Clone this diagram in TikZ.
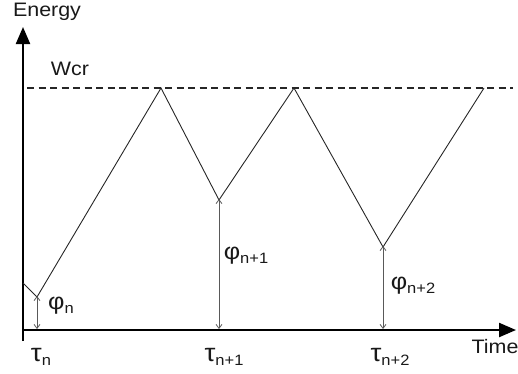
\documentclass[tikz,border=0pt]{standalone}
\usepackage{fontspec}
\setmainfont[FakeStretch=1.1]{Liberation Sans}
\usetikzlibrary{arrows.meta}
\newcommand{\lsub}[1]{\raisebox{-0.4ex}{\fontsize{15}{15}\selectfont #1}}
\newcommand{\gphi}{{\fontsize{23}{23}\selectfont φ}}
\newcommand{\gtau}{{\fontsize{25}{25}\selectfont τ}}
\begin{document}
\begin{tikzpicture}[x=1pt,y=-1pt,
  axis/.style={line width=2.3pt,-{Triangle[length=17pt,width=14pt]}},
  curve/.style={line width=0.9pt,draw=black!85,line join=miter},
  gap/.style={line width=0.8pt,draw=black!65,{Straight Barb[length=4pt,width=6pt]}-{Straight Barb[length=4pt,width=6pt]}},
  lbl/.style={inner sep=0pt,font=\fontsize{19.5}{19.5}\selectfont,text=black!90}]
\useasboundingbox (0,0) rectangle (518,373);
% axes
\coordinate (ybot) at (23,341);
\coordinate (ytop) at (23,27);
\coordinate (xl) at (23,330);
\coordinate (xr) at (516,330);
\draw[axis] (ybot) -- (ytop);
\draw[axis] (xl) -- (xr);
% critical level
\coordinate (wl) at (27,88);
\coordinate (wr) at (513,88);
\draw[line width=1.2pt,dash pattern=on 7pt off 4.5pt,draw=black!85] (wl) -- (wr);
% energy curve
\coordinate (s0) at (23,283);
\coordinate (m1) at (37,297);
\coordinate (p1) at (161,88);
\coordinate (m2) at (219,200);
\coordinate (p2) at (294,88);
\coordinate (m3) at (383,247);
\coordinate (p3) at (484,88);
\draw[curve] (s0) -- (m1) -- (p1) -- (m2) -- (p2) -- (m3) -- (p3);
% gap arrows
\coordinate (b1) at (37,329);
\coordinate (b2) at (219,329);
\coordinate (b3) at (383,329);
\draw[gap] ([yshift=1pt]m1) -- (b1);
\draw[gap] ([yshift=1pt]m2) -- (b2);
\draw[gap] ([yshift=1pt]m3) -- (b3);
% labels
\node[lbl] (energy) at (47,12) {Energy};
\node[lbl] (wcr) at (70,69) {Wcr};
\node[lbl] (time) at (495,347) {Time};
\node[lbl] (phin) at (61,306) {\gphi\lsub{n}};
\node[lbl] (phin1) at (246,256) {\gphi\lsub{n+1}};
\node[lbl] (phin2) at (413,286) {\gphi\lsub{n+2}};
\node[lbl] (taun) at (41,357) {\gtau\lsub{n}};
\node[lbl] (taun1) at (224,357) {\gtau\lsub{n+1}};
\node[lbl] (taun2) at (390,357) {\gtau\lsub{n+2}};
\end{tikzpicture}
\end{document}
